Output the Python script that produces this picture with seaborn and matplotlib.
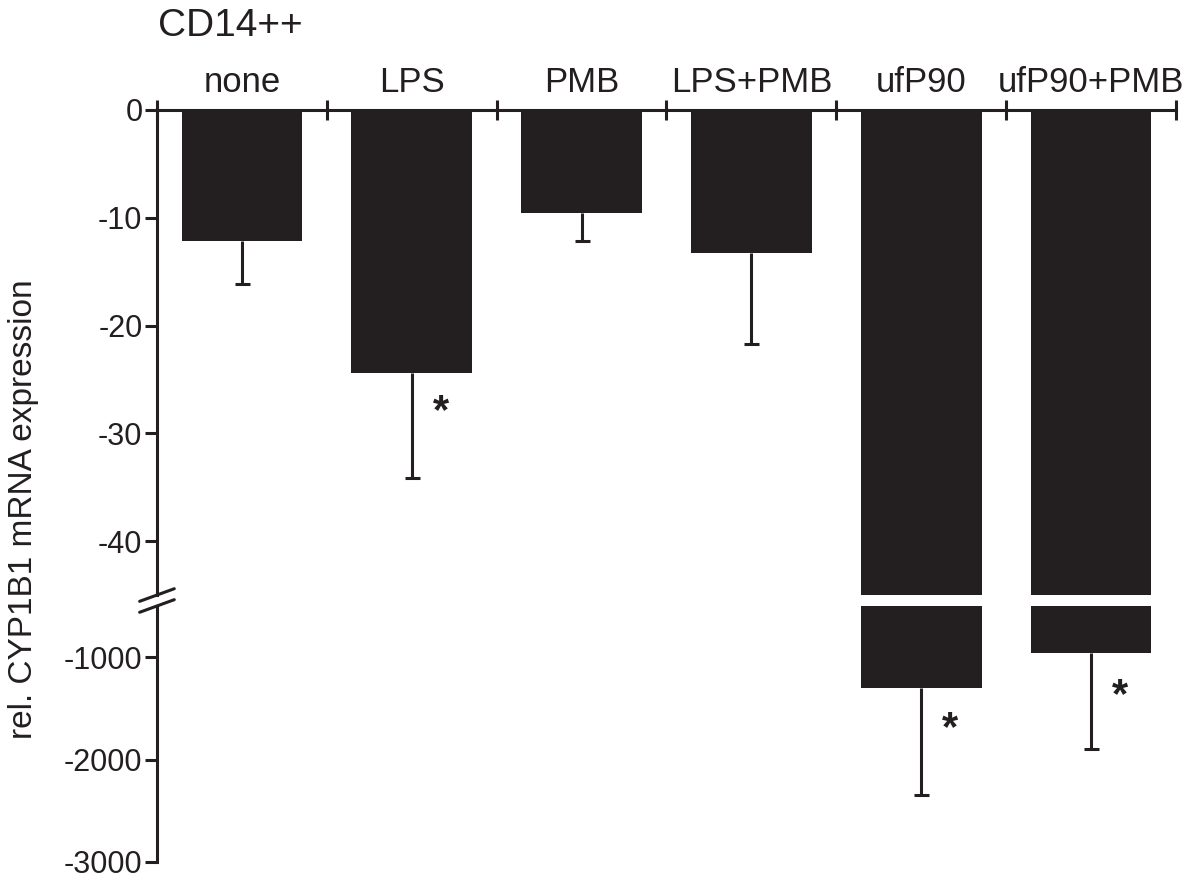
import numpy as np
import pandas as pd
import seaborn as sns
import matplotlib
matplotlib.use("Agg")
import matplotlib.pyplot as plt

# values
groups = ["none", "LPS", "PMB", "LPS+PMB", "ufP90", "ufP90+PMB"]
means = [-12.2, -24.4, -9.6, -13.3, -1304, -961]
err_lo = [3.9, 9.7, 2.6, 8.4, 1039, 931]
star_groups = ["LPS", "ufP90", "ufP90+PMB"]
star_y = [-28.0, -1700, -1380]

top_ticks = [0, -10, -20, -30, -40]
bot_ticks = [-1000, -2000, -3000]

INK = "#231f20"
LW = 2.2

sns.set_style("white")
plt.rcParams["font.family"] = ["Liberation Sans", "DejaVu Sans"]
plt.rcParams["text.color"] = INK
plt.rcParams["axes.unicode_minus"] = False

df = pd.DataFrame({"group": groups, "value": means})

fig = plt.figure(figsize=(12, 8.84), dpi=100)
ax_top = fig.add_axes([0.1308, 0.3269, 0.8492, 0.5487])
ax_bot = fig.add_axes([0.1308, 0.0249, 0.8492, 0.2896])

for ax in (ax_top, ax_bot):
    sns.barplot(data=df, x="group", y="value", order=groups, color=INK,
                saturation=1, width=0.71, errorbar=None, linewidth=0, ax=ax)
    eb = ax.errorbar(np.arange(len(groups)), means, yerr=[err_lo, np.zeros(len(groups))],
                     fmt="none", ecolor=INK, elinewidth=LW, capsize=5.4, capthick=LW, zorder=0.5)
    # only the lower caps are drawn in the original
    for cl in eb[1]:
        if np.allclose(cl.get_ydata(), means):
            cl.set_visible(False)
    ax.set_xlim(-0.5, len(groups) - 0.5)
    ax.set_xlabel("")
    ax.set_ylabel("")
    for s in ax.spines.values():
        s.set_color(INK)
        s.set_linewidth(LW)
    ax.spines["right"].set_visible(False)
    ax.spines["bottom"].set_visible(False)
    ax.tick_params(axis="y", left=True, direction="out", length=9, width=LW,
                   color=INK, labelsize=22, labelcolor=INK, pad=1.5)

# upper panel: 0 to -45
ax_top.set_ylim(-45, 0)
ax_top.set_yticks(top_ticks)
ax_top.xaxis.tick_top()
ax_top.set_xticks(np.arange(len(groups)))
ax_top.set_xticklabels(groups)
ax_top.set_xticks(np.arange(-0.5, len(groups)), minor=True)
ax_top.tick_params(axis="x", which="major", top=True, length=0, labelsize=25,
                   labelcolor=INK, pad=8)
ax_top.tick_params(axis="x", which="minor", top=True, direction="inout", length=14,
                   width=LW, color=INK)
ax_top.tick_params(axis="x", bottom=False, labelbottom=False, which="both")

# lower panel: -500 to -3000
ax_bot.set_ylim(-3000, -500)
ax_bot.set_yticks(bot_ticks)
ax_bot.spines["top"].set_visible(False)
ax_bot.set_xticks([])
ax_bot.tick_params(axis="x", bottom=False, top=False, labelbottom=False)

# significance stars, each in the panel whose range holds it
for g, y in zip(star_groups, star_y):
    ax = ax_top if y >= -45 else ax_bot
    ax.text(groups.index(g) + 0.17, y, "*", fontsize=30, ha="center", va="center",
            color=INK, fontweight="bold")

# axis break marks
for ax, y, h in ((ax_top, 0.0, 0.5487), (ax_bot, 1.0, 0.2896)):
    d = 0.013 * 0.5487 / h
    ax.plot([-0.017, 0.017], [y - d, y + d], transform=ax.transAxes,
            color=INK, lw=LW, clip_on=False)

fig.text(158 / 1200, 1 - 36 / 884, "CD14++", fontsize=28, ha="left", va="baseline")
fig.text(24 / 1200, 1 - 509 / 884, "rel. CYP1B1 mRNA expression", fontsize=24,
         rotation=90, ha="center", va="center")

fig.savefig("out.png", dpi=100, facecolor="white")
